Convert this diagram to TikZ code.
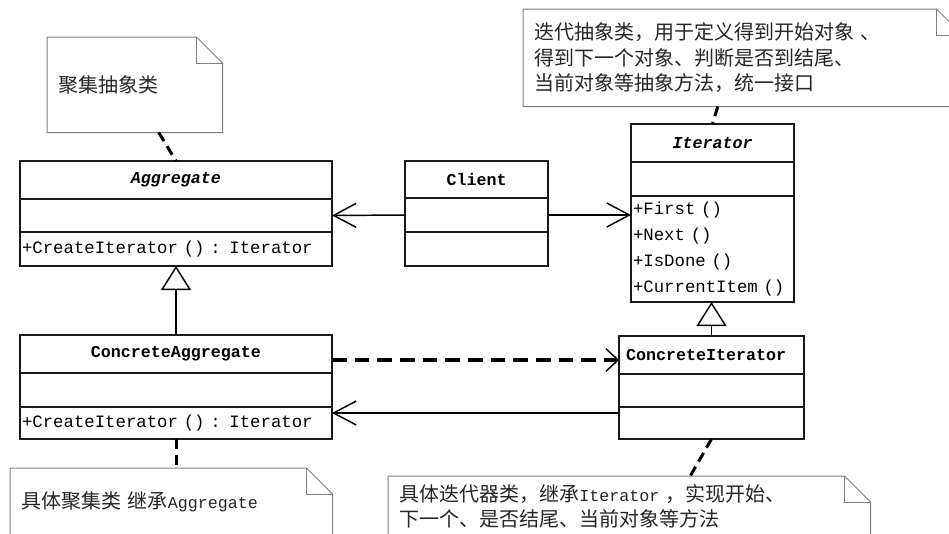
\documentclass[tikz,border=0pt]{standalone}
\usepackage{fontspec}
\setmainfont{Liberation Mono}
\newfontfamily\cjk{Noto Sans CJK SC}
\usetikzlibrary{positioning,arrows.meta}
\newdimen\px \px=0.75pt
\newcommand\latword[1]{{\rmfamily\fontsize{12.5}{19.2}\selectfont #1}}

\tikzset{
  part/.style={draw=black!90, line width=2\px, outer sep=0pt, inner xsep=2\px, inner ysep=0pt,
    font=\fontsize{13}{19.3}\selectfont},
  title/.style={part, minimum height=38\px, font=\bfseries\fontsize{12.5}{15}\selectfont},
  ops/.style={part, align=left},
  notebox/.style={anchor=north west, inner xsep=11\px, inner ysep=0pt, align=left, text=black!85,
    font=\cjk\fontsize{15}{19.2}\selectfont},
  noteedge/.style={draw=black!50, line width=1\px},
  noteline/.style={line width=2.25pt, dash pattern=on 7.5pt off 4.5pt},
  assoc/.style={line width=1.1pt, -{Straight Barb[length=17pt, width=18pt, line width=1.1pt]}},
  depend/.style={line width=2.5pt, dash pattern=on 11pt off 6pt,
    -{Straight Barb[length=9pt, width=17pt, line width=1.1pt]}},
  inherit/.style={line width=1.1pt, -{Triangle[open, length=18pt, width=22.5pt, line width=1.1pt]}}
}

\begin{document}
\begin{tikzpicture}[x=0.75pt, y=-0.75pt]
	\fill[white] (0,0) rectangle (949,533);
	\useasboundingbox (0,0) rectangle (949,533);

	% classes
	\node[title, minimum width=312\px, anchor=north west] (agg) at (20,161) {\itshape Aggregate};
	\node[part, minimum width=312\px, minimum height=33\px, below=0pt of agg] (agg-attr) {};
	\node[ops, text width=308\px, minimum height=34\px, below=0pt of agg-attr] (agg-ops) {+CreateIterator () : Iterator};

	\node[title, minimum width=143\px, minimum height=37\px, anchor=north west] (cl) at (405,161) {Client};
	\node[part, minimum width=143\px, minimum height=34\px, below=0pt of cl] (cl-attr) {};
	\node[part, minimum width=143\px, minimum height=34\px, below=0pt of cl-attr] (cl-ops) {};

	\node[title, minimum width=163\px, anchor=north west] (it) at (631,124) {\itshape Iterator};
	\node[part, minimum width=163\px, minimum height=34\px, below=0pt of it] (it-attr) {};
	\node[ops, text width=159\px, minimum height=106\px, below=0pt of it-attr] (it-ops) {+First ()\\+Next ()\\+IsDone ()\\+CurrentItem ()};

	\node[title, minimum width=312\px, anchor=north west] (ca) at (20,335) {ConcreteAggregate};
	\node[part, minimum width=312\px, minimum height=34\px, below=0pt of ca] (ca-attr) {};
	\node[ops, text width=308\px, minimum height=32\px, below=0pt of ca-attr] (ca-ops) {+CreateIterator () : Iterator};

	\node[title, align=left, inner xsep=7\px, text width=171\px, anchor=north west] (ci) at (619,336) {ConcreteIterator};
	\node[part, minimum width=185\px, minimum height=33\px, below=0pt of ci] (ci-attr) {};
	\node[part, minimum width=185\px, minimum height=32\px, below=0pt of ci-attr] (ci-ops) {};

	% notes
	\node[notebox, text width=153\px, minimum height=95\px] (n1) at (47,37) {聚集抽象类};
	\node[notebox, text width=417\px, minimum height=97\px] (n2) at (523,9) {迭代抽象类，用于定义得到开始对象 、\\得到下一个对象、判断是否到结尾、\\当前对象等抽象方法，统一接口};
	\node[notebox, text width=300\px, minimum height=68\px] (n3) at (10,468) {具体聚集类 继承\latword{Aggregate}};
	\node[notebox, text width=460\px, minimum height=60\px] (n4) at (388,476) {具体迭代器类，继承\latword{Iterator} ，实现开始、\\下一个、是否结尾、当前对象等方法};

	\foreach \n in {n1,n2,n3,n4}{
		\draw[noteedge] (\n.south west) -- (\n.north west) -- ([xshift=-26\px]\n.north east)
			-- ([yshift=-26\px]\n.north east) -- (\n.south east) -- cycle;
		\draw[noteedge] ([xshift=-26\px]\n.north east) |- ([yshift=-26\px]\n.north east);
		}

	% relations
	\draw[assoc] (cl-attr.west) -- (agg-attr.east);
	\draw[assoc] (cl-attr.east) -- (cl-attr.east -| it-ops.west);
	\draw[depend] ([yshift=-6\px]ca.east) -- ([yshift=-6\px]ca.east -| ci.west);
	\draw[assoc] ([yshift=10\px]ci-ops.west) -- ([yshift=10\px]ci-ops.west -| ca-ops.east);
	\draw[inherit] (ca.north) -- (agg-ops.south);
	\draw[inherit] (ci.north) -- (ci.north |- it-ops.south);

	% note links
	\draw[noteline] ([xshift=24\px]n1.south) -- (agg.north);
	\draw[noteline] ([xshift=-25\px]n2.south) -- (it.north);
	\draw[noteline] (ca-ops.south) -- (ca-ops.south |- n3.north);
	\draw[noteline] (ci-ops.south) -- ([xshift=61\px]n4.north);
\end{tikzpicture}
\end{document}
